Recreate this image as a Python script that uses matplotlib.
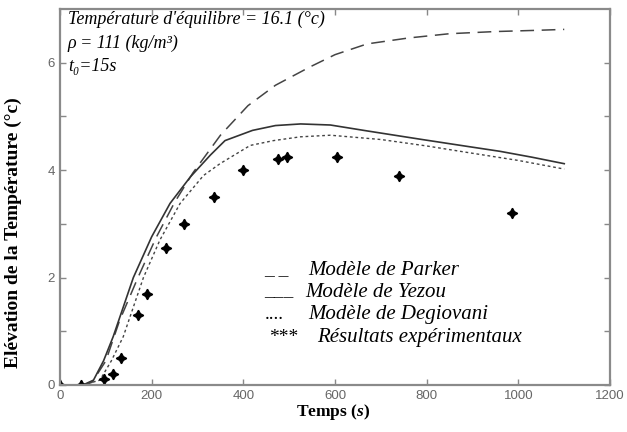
import matplotlib
matplotlib.use('Agg')
import matplotlib.pyplot as plt
import numpy as np

plt.rcParams['mathtext.fontset'] = 'custom'
plt.rcParams['mathtext.it'] = 'Liberation Serif:italic:bold'

# Parker model (dashed)
t_parker = [0, 50, 70, 100, 130, 170, 210, 250, 290, 320, 350, 410, 470, 545, 600, 670, 760, 850, 950, 1030, 1100]
y_parker = [0, 0, 0.05, 0.45, 1.2, 2.0, 2.75, 3.4, 3.95, 4.3, 4.65, 5.2, 5.58, 5.92, 6.15, 6.35, 6.46, 6.54, 6.58, 6.6, 6.62]

# Yezou model (solid)
t_yezou = [0, 50, 73, 95, 116, 138, 160, 200, 240, 284, 328, 360, 420, 470, 525, 590, 670, 790, 890, 960, 1030, 1100]
y_yezou = [0, 0, 0.09, 0.45, 0.9, 1.45, 2.0, 2.76, 3.38, 3.87, 4.28, 4.55, 4.74, 4.83, 4.86, 4.84, 4.73, 4.57, 4.44, 4.35, 4.24, 4.12]

# Degiovani model (dotted)
t_degio = [0, 50, 87, 112, 138, 160, 182, 218, 262, 313, 349, 415, 466, 524, 590, 700, 800, 888, 1000, 1100]
y_degio = [0, 0, 0.09, 0.45, 0.9, 1.45, 2.0, 2.7, 3.38, 3.9, 4.12, 4.46, 4.55, 4.62, 4.65, 4.57, 4.45, 4.33, 4.18, 4.02]

# experimental results
t_exp = [0, 45, 95, 115, 133, 170, 190, 232, 270, 335, 400, 475, 495, 605, 740, 985]
y_exp = [0, 0, 0.12, 0.2, 0.5, 1.3, 1.7, 2.55, 3.0, 3.5, 4.0, 4.2, 4.25, 4.25, 3.9, 3.2]

legend_sym = ['_ _', '___', '....', '***']
legend_txt = ['Modèle de Parker', 'Modèle de Yezou', 'Modèle de Degiovani', 'Résultats expérimentaux']

serif = ['Liberation Serif', 'DejaVu Serif']

fig = plt.figure(figsize=(6.27, 4.32), dpi=100)
ax = fig.add_axes([0.0957, 0.1088, 0.8773, 0.8704])

ax.plot(t_parker, y_parker, color='#444444', lw=1.1, linestyle=(0, (9, 5)))
ax.plot(t_yezou, y_yezou, color='#333333', lw=1.2)
ax.plot(t_degio, y_degio, color='#444444', lw=1.0, linestyle=(0, (2, 2)))
ax.plot(t_exp, y_exp, linestyle='none', marker=(4, 1, 0), markersize=7.5, color='black')

ax.set_xlim(0, 1200)
ax.set_ylim(0, 7)
ax.set_xticks(np.arange(0, 1201, 200))
ax.set_yticks(np.arange(0, 7))
ax.set_yticklabels(['0', '', '2', '', '4', '', '6'])
ax.tick_params(direction='in', length=4, top=True, right=True, colors='#888888',
               labelcolor='#666666', labelsize=9.5, width=1)
for lab in ax.get_xticklabels() + ax.get_yticklabels():
    lab.set_family('Liberation Sans')
for sp in ax.spines.values():
    sp.set_color('#8a8a8a')
    sp.set_linewidth(1.6)

ax.set_xlabel('Temps ($\\it{s}$)', fontsize=12.5, fontweight='bold', family=serif)
ax.set_ylabel('Elévation de la Température (°c)', fontsize=14, fontweight='bold', family=serif)
ax.xaxis.set_label_coords(0.496, -0.045)
ax.yaxis.set_label_coords(-0.069, 0.404)

# annotations top-left
ax.text(17, 6.8, "Température d'équilibre = 16.1 (°c)", style='italic', fontsize=13,
        family=serif, va='center')
ax.text(17, 6.36, 'ρ = 111 (kg/m³)', style='italic', fontsize=13, family=serif, va='center')
ax.text(17, 5.93, 't₀=15s', style='italic', fontsize=13, family=serif, va='center')

# hand-written legend
leg_y = [2.14, 1.73, 1.32, 0.89]
sym_x = [446, 446, 446, 456]
txt_x = [541, 535, 541, 561]
for s, t, yy, sx, tx in zip(legend_sym, legend_txt, leg_y, sym_x, txt_x):
    ax.text(sx, yy, s, fontsize=14, family=serif, va='center')
    ax.text(tx, yy, t, style='italic', fontsize=15, family=serif, va='center')

fig.savefig('out.png', dpi=100)
